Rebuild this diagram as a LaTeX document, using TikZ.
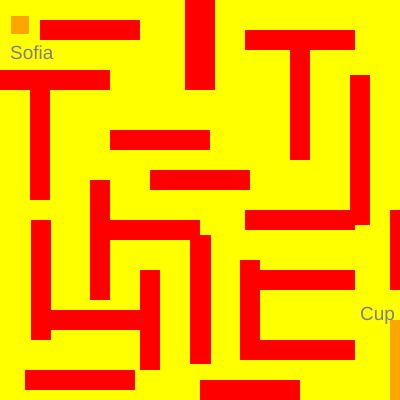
\documentclass[tikz,border=0pt]{standalone}
\usepackage{xcolor}
\usepackage{fontspec}
\setmainfont{Liberation Sans}
\definecolor{mazebg}{RGB}{255,255,0}
\definecolor{mazewall}{RGB}{255,0,0}
\definecolor{mazegoal}{RGB}{255,165,0}
\definecolor{mazetext}{RGB}{128,128,128}

\begin{document}
\begin{tikzpicture}[
      x=1pt, y=-1pt,
      wall/.style={fill=mazewall},
      goal/.style={fill=mazegoal},
      tag/.style={inner sep=0pt, anchor=base west, text=mazetext,
                  font=\fontsize{19}{19}\selectfont},
    ]

    % Background
    \fill[mazebg] (0,0) rectangle (400,400);
    \useasboundingbox (0,0) rectangle (400,400);

    % Start
    \fill[goal] (11,16) rectangle (29,34);

    % Walls, top part
    \fill[wall] (40,20) rectangle (140,40);
    \fill[wall] (185,0) rectangle (215,90);
    \fill[wall] (0,70) rectangle (110,90);
    \fill[wall] (30,70) rectangle (50,200);
    \fill[wall] (245,30) rectangle (355,50);
    \fill[wall] (290,30) rectangle (310,160);
    \fill[wall] (350,75) rectangle (370,225);
    \fill[wall] (110,130) rectangle (210,150);
    \fill[wall] (150,170) rectangle (250,190);

    % Walls, middle part
    \fill[wall] (90,180) rectangle (110,300);
    \fill[wall] (90,220) rectangle (200,240);
    \fill[wall] (189.5,235) rectangle (210.5,364);
    \fill[wall] (245,210) rectangle (355,230);
    \fill[wall] (390,210) rectangle (400,290);

    % Walls, bottom part
    \fill[wall] (31,220) rectangle (51,340);
    \fill[wall] (50,310) rectangle (150,330);
    \fill[wall] (140,270) rectangle (160,370);
    \fill[wall] (25,370) rectangle (135,390);
    \fill[wall] (240,260) rectangle (260,360);
    \fill[wall] (240,270) rectangle (355,290);
    \fill[wall] (240,340) rectangle (355,360);
    \fill[wall] (200,380) rectangle (300,400);

    % Goal
    \fill[goal] (390,320) rectangle (400,400);

    % Labels
    \node[tag] (sofia) at (10,59) {Sofia};
    \node[tag] (cup) at (360,320) {Cup};

  \end{tikzpicture}
\end{document}
